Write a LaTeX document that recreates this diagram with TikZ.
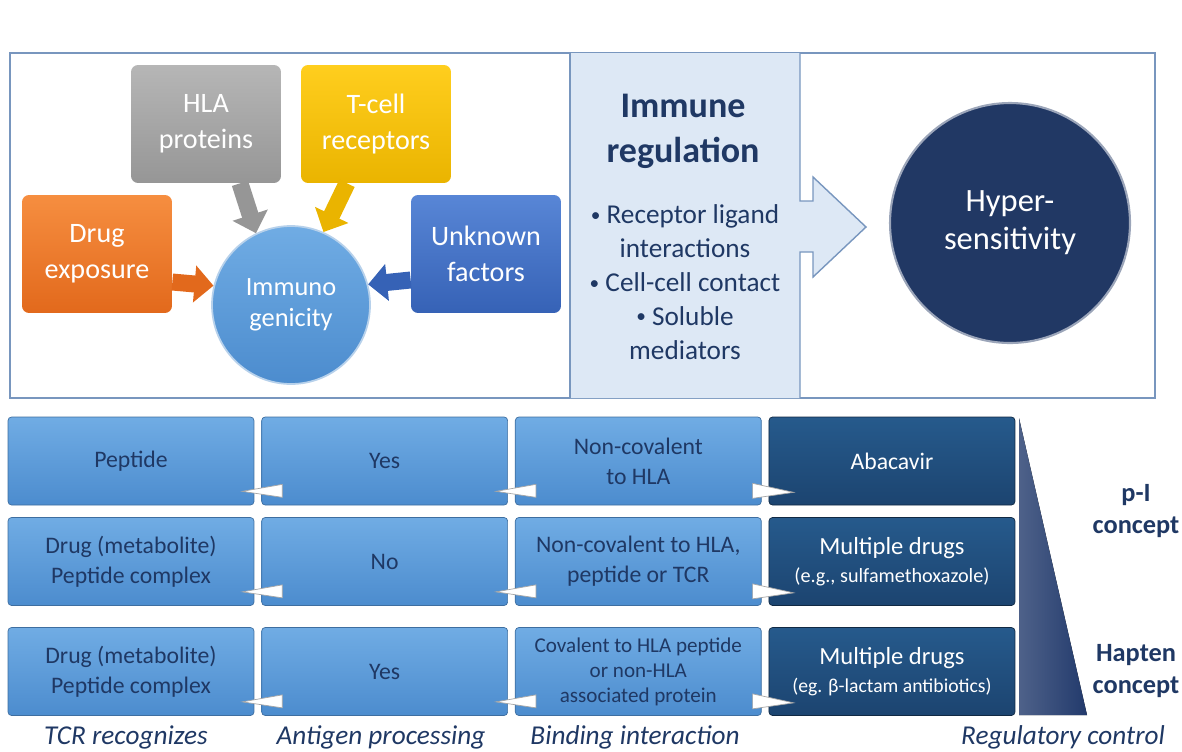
\documentclass[tikz,border=0pt]{standalone}
\usepackage{fontspec}
\setmainfont{Carlito}
\usetikzlibrary{positioning,arrows.meta,calc}

\definecolor{navy}{RGB}{31,56,100}
\definecolor{framec}{RGB}{120,150,190}
\definecolor{panelc}{RGB}{221,232,245}
\definecolor{lightA}{RGB}{112,172,228}
\definecolor{lightB}{RGB}{76,140,206}
\definecolor{lightE}{RGB}{62,110,160}
\definecolor{darkA}{RGB}{38,90,140}
\definecolor{darkB}{RGB}{28,68,112}
\definecolor{orangeA}{RGB}{246,142,64}
\definecolor{orangeB}{RGB}{226,105,28}
\definecolor{grayA}{RGB}{182,182,182}
\definecolor{grayB}{RGB}{150,150,150}
\definecolor{yellowA}{RGB}{255,206,30}
\definecolor{yellowB}{RGB}{234,180,0}
\definecolor{blueA}{RGB}{88,134,214}
\definecolor{blueB}{RGB}{54,98,182}
\definecolor{hyperc}{RGB}{33,56,100}
\definecolor{conec}{RGB}{34,58,108}

\newcommand{\dotitem}{{\fontsize{11}{11}\selectfont\raisebox{0.25ex}{\textbullet}}\ }

\begin{document}
\begin{tikzpicture}[x=0.02cm, y=-0.02cm,
		src/.style={rounded corners=4pt, minimum width=3cm, minimum height=2.36cm, align=center, text=white, font=\fontsize{16}{20.5}\selectfont},
		fat/.style={line width=0.34cm, -{Triangle[length=0.38cm, width=0.72cm]}},
		cell/.style={rounded corners=2pt, minimum width=4.92cm, minimum height=1.76cm, align=center, inner sep=1pt, font=\fontsize{13.5}{17}\selectfont},
		light/.style={cell, draw=lightE, top color=lightA, bottom color=lightB, text=navy},
		dark/.style={cell, draw=darkB!60!black, top color=darkA, bottom color=darkB, text=white},
		wedge/.style={fill=white, draw=gray!70, line width=0.4pt},
		caption/.style={text=navy, font=\fontsize{15.5}{18}\selectfont\itshape},
		concept/.style={text=navy, align=center, font=\fontsize{15}{18}\selectfont\bfseries}]
		\useasboundingbox (0,0) rectangle (1182,751);

		% top frame and regulation panel
		\draw[framec, line width=0.8pt] (10,53) rectangle (1155,398);
		\fill[panelc] (570,53) -- (800,53) -- (800,201) -- (813,201) -- (813,177) -- (866,227) -- (813,277) -- (813,252) -- (800,252) -- (800,398) -- (570,398) -- cycle;
		\draw[framec, line width=0.8pt] (570,53) -- (570,398);
		\draw[framec, line width=0.8pt] (800,53) -- (800,201) -- (813,201) -- (813,177) -- (866,227) -- (813,277) -- (813,252) -- (800,252) -- (800,398);

		\node[src, top color=orangeA, bottom color=orangeB] (drug) at (97,254) {Drug\\exposure};
		\node[src, top color=grayA, bottom color=grayB] (hla) at (206,124) {HLA\\proteins};
		\node[src, top color=yellowA, bottom color=yellowB] (tcell) at (376,124) {T-cell\\receptors};
		\node[src, top color=blueA, bottom color=blueB] (unknown) at (486,254) {Unknown\\factors};
		\node[circle, minimum size=3.16cm, top color=lightA, bottom color=lightB, draw=white!60!lightB, line width=1pt, align=center, text=white, font=\fontsize{15}{17.6}\selectfont] (immuno) at (291,305) {Immuno\\genicity};

		\draw[fat, orangeB] ($(drug.east)+(0,28)$) -- (immuno.166);
		\draw[fat, grayB] ($(hla.south)+(34,0)$) -- (immuno.116);
		\draw[fat, yellowB] ($(tcell.south)+(-29,0)$) -- (immuno.66);
		\draw[fat, blueB] ($(unknown.west)+(0,26)$) -- (immuno.15);

		\node[text=navy, align=center, font=\fontsize{20.5}{25.6}\selectfont\bfseries] (title) at (683,131) {Immune\\regulation};
		\node[text=navy, align=center, font=\fontsize{15.5}{19.3}\selectfont] (items) at (685,282) {\dotitem Receptor ligand\\interactions\\\dotitem Cell-cell contact\\\dotitem Soluble\\mediators};

		\node[circle, minimum size=4.8cm, fill=hyperc, draw=white!55!hyperc, line width=1.2pt, align=center, text=white, font=\fontsize{18.5}{21.6}\selectfont] (hyper) at (1010,223) {Hyper-\\sensitivity};

		% concept table
		\node[light] (tcr1) at (131,461) {Peptide};
		\node[light, right=0.14cm of tcr1] (proc1) {Yes};
		\node[light, right=0.14cm of proc1] (bind1) {Non-covalent\\to HLA};
		\node[dark, right=0.14cm of bind1] (drug1) {Abacavir};

		\node[light] (tcr2) at (131,561.5) {Drug (metabolite)\\Peptide complex};
		\node[light, right=0.14cm of tcr2] (proc2) {No};
		\node[light, right=0.14cm of proc2] (bind2) {Non-covalent to HLA,\\peptide or TCR};
		\node[dark, right=0.14cm of bind2, font=\fontsize{14}{16}\selectfont] (drug2) {Multiple drugs\\{\fontsize{11.5}{14}\selectfont(e.g., sulfamethoxazole)}};

		\node[light] (tcr3) at (131,671.5) {Drug (metabolite)\\Peptide complex};
		\node[light, right=0.14cm of tcr3] (proc3) {Yes};
		\node[light, right=0.14cm of proc3, font=\fontsize{12}{14.2}\selectfont] (bind3) {Covalent to HLA peptide\\or non-HLA\\associated protein};
		\node[dark, right=0.14cm of bind3, font=\fontsize{14}{16}\selectfont] (drug3) {Multiple drugs\\{\fontsize{11.2}{14}\selectfont(eg. β-lactam antibiotics)}};

		\filldraw[wedge] ($(proc1.south west)+(21,-8)$) -- ($(proc1.south west)+(21,-21)$) -- ($(tcr1.south east)+(-12,-14)$) -- cycle;
		\filldraw[wedge] ($(bind1.south west)+(21,-8)$) -- ($(bind1.south west)+(21,-21)$) -- ($(proc1.south east)+(-12,-14)$) -- cycle;
		\filldraw[wedge] ($(bind1.south east)+(-9,-7)$) -- ($(bind1.south east)+(-9,-22)$) -- ($(drug1.south west)+(25,-13)$) -- cycle;
		\filldraw[wedge] ($(proc2.south west)+(21,-8)$) -- ($(proc2.south west)+(21,-21)$) -- ($(tcr2.south east)+(-12,-14)$) -- cycle;
		\filldraw[wedge] ($(bind2.south west)+(21,-8)$) -- ($(bind2.south west)+(21,-21)$) -- ($(proc2.south east)+(-12,-14)$) -- cycle;
		\filldraw[wedge] ($(bind2.south east)+(-9,-7)$) -- ($(bind2.south east)+(-9,-22)$) -- ($(drug2.south west)+(25,-13)$) -- cycle;
		\filldraw[wedge] ($(proc3.south west)+(21,-8)$) -- ($(proc3.south west)+(21,-21)$) -- ($(tcr3.south east)+(-12,-14)$) -- cycle;
		\filldraw[wedge] ($(bind3.south west)+(21,-8)$) -- ($(bind3.south west)+(21,-21)$) -- ($(proc3.south east)+(-12,-14)$) -- cycle;
		\filldraw[wedge] ($(bind3.south east)+(-9,-7)$) -- ($(bind3.south east)+(-9,-22)$) -- ($(drug3.south west)+(25,-13)$) -- cycle;

		\fill[left color=conec!80!white, right color=conec] (1019,418) -- (1019,715) -- (1087,715) -- cycle;
		\node[concept] (pi) at (1136,511) {p-I\\concept};
		\node[concept] (hapten) at (1136,671) {Hapten\\concept};

		\node[caption] (cap1) at (126,737) {TCR recognizes};
		\node[caption] (cap2) at (381,737) {Antigen processing};
		\node[caption] (cap3) at (635,737) {Binding interaction};
		\node[caption] (cap4) at (1063,737) {Regulatory control};
	\end{tikzpicture}
\end{document}
